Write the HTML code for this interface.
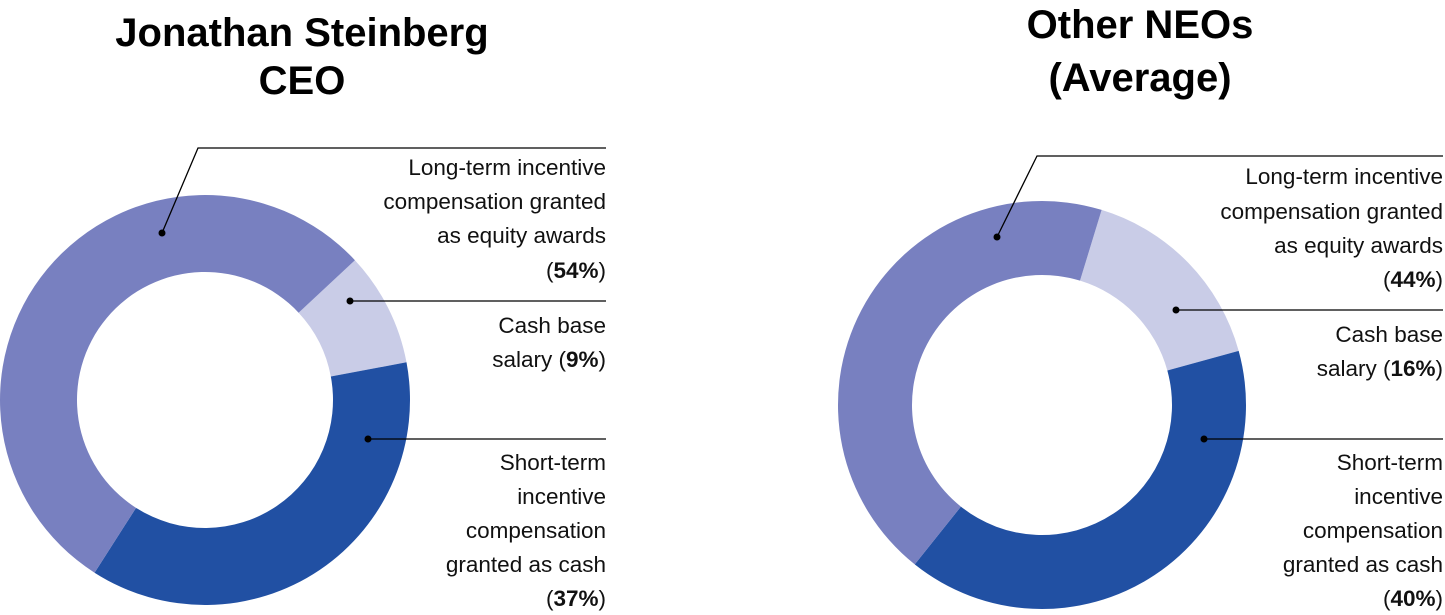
<!DOCTYPE html>
<html><head><meta charset="utf-8"><style>
html,body{margin:0;padding:0;background:#fff;}
svg{display:block;font-family:"Liberation Sans",sans-serif;}
</style></head><body>
<svg id="chart" width="1445" height="615" viewBox="0 0 1445 615"></svg>
<script>
const chartTitles=[["Jonathan Steinberg","CEO"],["Other NEOs","(Average)"]];
const categories=["Cash base salary","Short-term incentive compensation granted as cash","Long-term incentive compensation granted as equity awards"];
const ceoValues=[9,37,54];
const neoValues=[16,40,44];
const colors=["#c9cce7","#2150a3","#7880c0"];
const NS="http://www.w3.org/2000/svg";
const svg=document.getElementById('chart');
function mk(tag,attrs,parent){const e=document.createElementNS(NS,tag);for(const k in attrs)e.setAttribute(k,attrs[k]);(parent||svg).appendChild(e);return e;}
function pt(cx,cy,r,deg){const a=deg*Math.PI/180;return [cx+r*Math.sin(a),cy-r*Math.cos(a)];}
const panels=[
 {vals:ceoValues,cx:205,cy:400,ro:205,ri:128,start:47,titleX:302,titleY:[46,94],right:606,
  labels:[{lines:[["Cash base",""],["salary (","9%",")"]],y:[333,367],line:{y:301,x1:350,pts:null}},
          {lines:[["Short-term"],["incentive"],["compensation"],["granted as cash"],["(","37%",")"]],y:[470,504,538,572,606],line:{y:439,x1:368}},
          {lines:[["Long-term incentive"],["compensation granted"],["as equity awards"],["(","54%",")"]],y:[175,209,243,278],line:{y:148,x1:198,dx:162,dy:233}}]},
 {vals:neoValues,cx:1042,cy:405,ro:204,ri:130,start:17,titleX:1140,titleY:[38,91],right:1443,
  labels:[{lines:[["Cash base"],["salary (","16%",")"]],y:[342,376],line:{y:310,x1:1176}},
          {lines:[["Short-term"],["incentive"],["compensation"],["granted as cash"],["(","40%",")"]],y:[470,504,538,572,606],line:{y:439,x1:1204}},
          {lines:[["Long-term incentive"],["compensation granted"],["as equity awards"],["(","44%",")"]],y:[184,219,253,287],line:{y:156,x1:1037,dx:997,dy:237}}]}
];
panels.forEach((p,pi)=>{
  const g=mk('g',{});
  
  
  chartTitles[pi].forEach((t,i)=>{
    const tx=mk('text',{x:p.titleX,y:p.titleY[i],'text-anchor':'middle','font-size':'40','font-weight':'bold',fill:'#000'},g);
    tx.textContent=t;
    
    
  });
  const total=p.vals.reduce((a,b)=>a+b,0);
  let ang=p.start;
  p.vals.forEach((v,i)=>{
    const sweep=v/total*360, a2=ang+sweep, large=sweep>180?1:0;
    const [x1,y1]=pt(p.cx,p.cy,p.ro,ang),[x2,y2]=pt(p.cx,p.cy,p.ro,a2);
    const [x3,y3]=pt(p.cx,p.cy,p.ri,a2),[x4,y4]=pt(p.cx,p.cy,p.ri,ang);
    const s=mk('path',{d:`M${x1},${y1}A${p.ro},${p.ro} 0 ${large} 1 ${x2},${y2}L${x3},${y3}A${p.ri},${p.ri} 0 ${large} 0 ${x4},${y4}Z`,fill:colors[i]},g);
    
    
    ang=a2;
  });
  p.labels.forEach((L,i)=>{
    const l=L.line;
    let d=`M${p.right},${l.y}L${l.x1},${l.y}`;
    let dot=[l.x1,l.y];
    if(l.dx!==undefined){d+=`L${l.dx},${l.dy}`;dot=[l.dx,l.dy];}
    const ln=mk('path',{d:d,fill:'none',stroke:'#000','stroke-width':'1.3'},g);
    
    
    const c=mk('circle',{cx:dot[0],cy:dot[1],r:3.5,fill:'#000'},g);
    
    
    L.lines.forEach((parts,j)=>{
      const t=mk('text',{x:p.right,y:L.y[j],'text-anchor':'end','font-size':'22.5',fill:'#111'},g);
      
      
      parts.forEach((s,k)=>{if(!s)return;const ts=mk('tspan',k===1?{'font-weight':'bold'}:{},t);ts.textContent=s;});
    });
  });
});
</script>
</body></html>
